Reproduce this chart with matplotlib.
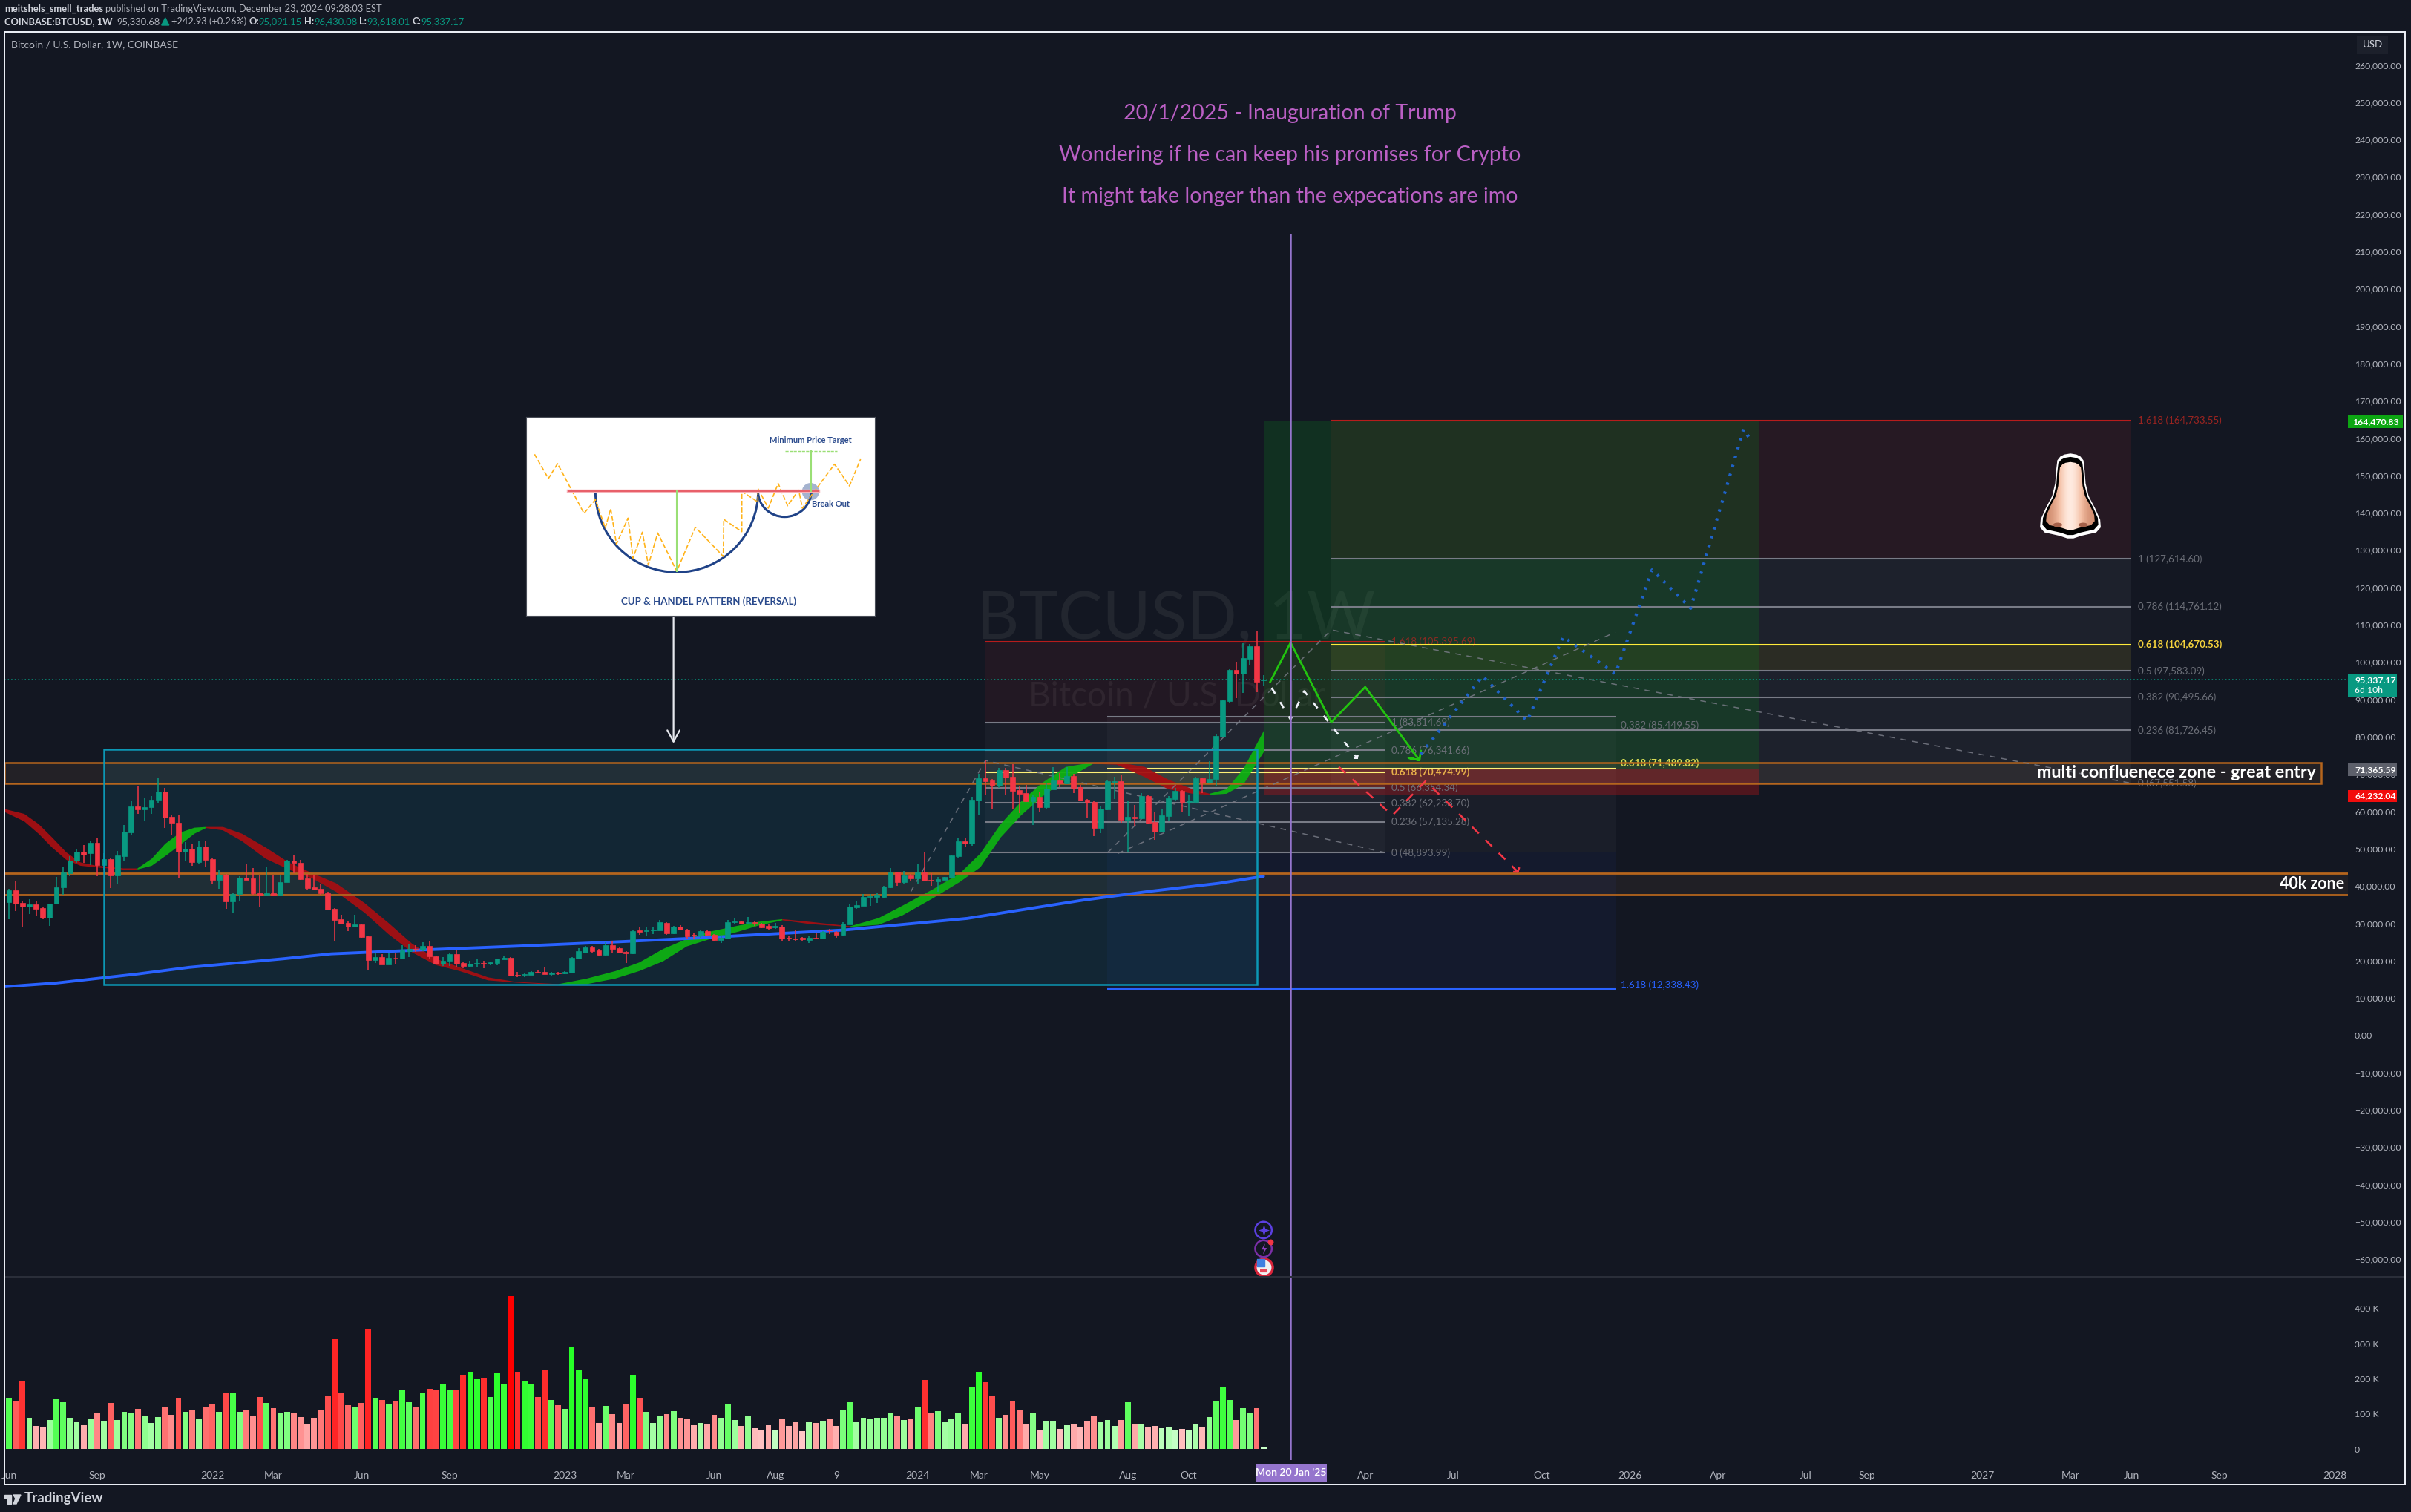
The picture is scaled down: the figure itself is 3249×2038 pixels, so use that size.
import numpy as np
import matplotlib
matplotlib.use("Agg")
import matplotlib.pyplot as plt
from matplotlib.patches import Rectangle, Arc, Polygon, Ellipse

W, H = 3249, 2038
BG = "#131722"
plt.rcParams["font.family"] = ["Lato", "DejaVu Sans"]

# weekly candles in thousand USD, first bar is 7 Jun 2021
opens = [35.6, 38.8, 35.5, 34.5, 35.0, 34.0, 31.5, 35.2, 39.7, 43.5, 46.7, 49.1, 48.8, 51.5, 45.6, 47.1, 42.8, 48.0, 54.3, 61.3,
         60.5, 61.0, 63.0, 65.3, 58.5, 57.0, 49.2, 50.0, 46.4, 50.5, 47.2, 41.6, 43.0, 35.8, 37.8, 42.2, 42.0, 38.1, 37.5, 38.1,
         37.5, 41.1, 46.8, 46.1, 42.0, 39.6, 39.2, 38.1, 33.8, 31.0, 30.1, 29.1, 29.7, 26.5, 20.1, 21.0, 19.0, 20.8, 20.5, 22.6,
         23.2, 22.9, 24.0, 21.2, 19.1, 19.9, 21.7, 19.3, 18.6, 19.1, 19.4, 19.2, 19.4, 20.4, 20.7, 16.1, 16.2, 16.2, 17.0, 16.9,
         16.4, 16.8, 16.5, 16.7, 20.5, 22.2, 23.5, 22.7, 21.5, 24.1, 23.3, 22.4, 22.0, 28.0, 27.9, 28.1, 28.0, 30.1, 27.3, 29.1,
         28.3, 26.9, 26.7, 27.9, 27.0, 25.6, 26.0, 30.2, 30.4, 30.0, 30.2, 29.8, 29.2, 28.8, 29.1, 26.2, 26.0, 26.1, 25.6, 26.2,
         25.9, 28.2, 27.7, 26.9, 29.7, 34.2, 34.7, 37.0, 37.0, 37.0, 39.7, 43.6, 41.0, 42.8, 42.0, 43.7, 41.6, 41.2, 41.7, 42.2,
         48.0, 52.0, 51.4, 62.9, 68.8, 68.2, 66.9, 71.0, 69.2, 65.7, 64.9, 62.7, 63.9, 61.1, 65.9, 68.3, 67.5, 69.5, 66.4, 63.1,
         62.5, 55.5, 60.5, 67.9, 68.1, 57.7, 58.5, 58.1, 64.1, 57.1, 54.5, 58.7, 63.3, 65.5, 62.5, 62.5, 68.8, 67.6, 68.7, 79.9,
         89.5, 97.8, 96.9, 100.9, 104.3, 95.09]
closes = [38.8, 35.3, 34.5, 35.0, 33.9, 31.5, 35.2, 39.6, 43.7, 46.8, 49.1, 48.4, 51.5, 45.6, 47.1, 42.8, 48.1, 54.5, 61.3, 60.5,
          61.0, 63.0, 65.3, 58.3, 56.9, 49.2, 50.0, 46.4, 50.5, 47.0, 41.6, 43.0, 35.8, 37.8, 42.2, 41.7, 38.0, 37.5, 38.1, 37.5,
          41.1, 46.8, 46.1, 41.8, 39.5, 39.0, 38.0, 33.7, 30.9, 29.9, 29.1, 29.7, 26.4, 20.1, 20.9, 19.0, 20.7, 20.7, 22.7, 23.1,
          22.9, 24.0, 21.1, 19.1, 19.9, 21.7, 19.2, 18.6, 19.1, 19.4, 19.2, 19.5, 20.5, 20.8, 16.0, 15.9, 16.4, 17.0, 16.7, 16.4,
          16.8, 16.5, 16.9, 20.7, 22.5, 23.5, 22.5, 21.5, 24.1, 23.1, 22.1, 22.0, 27.9, 27.7, 28.1, 28.3, 30.3, 27.3, 29.1, 28.2,
          26.5, 26.7, 27.9, 26.9, 25.6, 26.2, 30.2, 30.4, 29.9, 30.2, 30.0, 28.9, 28.7, 29.2, 25.9, 25.9, 25.8, 25.8, 26.2, 26.0,
          27.7, 28.0, 26.9, 29.8, 34.5, 34.9, 37.0, 37.3, 37.4, 39.8, 43.6, 41.0, 42.8, 42.0, 43.7, 41.4, 41.4, 41.8, 42.4, 48.2,
          52.0, 51.4, 63.1, 68.8, 68.0, 66.9, 71.0, 69.0, 65.5, 64.7, 62.7, 63.9, 61.1, 66.0, 68.3, 67.5, 69.5, 66.3, 62.9, 62.3,
          55.5, 60.7, 68.1, 68.0, 57.7, 58.5, 58.1, 64.1, 56.9, 54.5, 58.9, 63.5, 65.5, 62.5, 62.8, 68.8, 67.6, 68.6, 80.2, 89.7,
          97.8, 96.9, 101.1, 104.3, 94.7, 95.34]
highs = [39.3, 41.2, 35.8, 36.5, 35.8, 34.5, 35.3, 42.5, 45.1, 48.0, 49.8, 50.9, 51.9, 52.7, 48.8, 47.3, 49.3, 56.3, 62.7, 66.9,
         63.7, 64.1, 68.8, 66.3, 59.2, 59.0, 51.8, 51.1, 51.9, 51.9, 47.4, 44.3, 43.3, 38.0, 42.6, 45.8, 44.7, 42.8, 45.1, 42.8,
         42.8, 47.0, 48.1, 46.9, 43.2, 43.0, 40.5, 38.5, 34.0, 32.2, 30.5, 32.2, 29.9, 26.8, 21.9, 21.7, 22.1, 21.9, 24.1, 24.4,
         24.2, 24.9, 25.1, 21.4, 20.9, 21.9, 22.7, 19.6, 19.9, 20.4, 19.9, 19.6, 20.6, 21.3, 20.9, 17.0, 16.5, 17.2, 17.3, 18.1,
         16.9, 16.9, 17.1, 21.0, 23.3, 23.9, 23.9, 23.2, 25.0, 25.1, 23.5, 22.6, 28.0, 29.0, 29.0, 29.0, 30.9, 30.2, 29.3, 29.5,
         28.5, 27.5, 28.0, 28.2, 27.1, 26.5, 30.8, 31.2, 30.6, 31.7, 30.4, 30.0, 29.9, 30.1, 29.4, 26.6, 28.1, 26.4, 26.6, 27.4,
         27.9, 28.5, 27.9, 30.2, 35.0, 35.8, 37.8, 37.8, 38.2, 40.0, 44.8, 43.8, 44.1, 43.2, 45.8, 49.0, 43.5, 42.5, 42.5, 48.3,
         52.7, 52.9, 63.9, 70.0, 73.6, 68.6, 71.6, 71.6, 72.6, 66.8, 67.0, 64.3, 65.2, 67.5, 71.8, 70.3, 71.8, 70.0, 67.0, 63.2,
         62.7, 61.2, 68.3, 69.3, 69.8, 62.7, 61.7, 64.9, 64.3, 59.7, 60.6, 64.0, 66.3, 65.7, 64.3, 69.2, 69.0, 73.4, 80.7, 90.0,
         98.0, 100.0, 105.1, 104.8, 108.2, 96.43]
lows = [31.0, 33.2, 28.8, 32.5, 31.9, 31.0, 29.2, 35.0, 37.4, 42.7, 46.1, 46.2, 45.5, 42.7, 44.4, 39.5, 40.7, 46.8, 53.7, 59.4,
        57.6, 59.4, 62.1, 55.6, 53.7, 42.3, 46.6, 45.4, 45.8, 45.1, 40.5, 39.2, 33.9, 32.9, 36.0, 41.6, 37.5, 34.3, 37.2, 37.2,
        37.2, 41.0, 43.5, 41.6, 39.1, 38.8, 37.5, 33.5, 25.1, 29.7, 27.9, 29.0, 26.2, 17.4, 19.4, 18.9, 18.9, 19.0, 20.5, 20.9,
        22.4, 22.5, 20.6, 18.9, 18.6, 18.6, 18.4, 18.0, 18.3, 18.3, 18.0, 18.8, 18.8, 20.3, 15.7, 15.6, 15.5, 16.1, 16.6, 16.3,
        16.0, 16.2, 16.3, 16.7, 20.3, 21.9, 22.2, 21.4, 21.3, 22.2, 22.0, 19.4, 21.8, 26.9, 26.5, 27.2, 28.0, 26.9, 27.1, 28.1,
        25.7, 26.0, 26.2, 26.7, 25.4, 24.7, 25.9, 29.7, 29.7, 29.9, 29.3, 28.7, 28.3, 28.5, 25.1, 25.4, 25.1, 25.4, 24.7, 25.8,
        25.8, 27.2, 26.2, 26.8, 29.7, 33.9, 34.6, 34.6, 35.4, 36.7, 39.5, 40.0, 40.5, 41.2, 40.5, 41.2, 40.0, 38.4, 41.6, 42.1,
        47.6, 50.3, 50.8, 59.1, 64.3, 60.7, 66.3, 64.3, 60.7, 59.5, 62.4, 56.4, 59.9, 60.6, 65.9, 66.5, 67.3, 64.9, 62.9, 58.4,
        53.3, 54.2, 60.4, 63.2, 56.9, 49.0, 55.9, 57.9, 56.7, 52.3, 54.4, 57.3, 62.6, 59.7, 58.7, 62.3, 64.9, 67.5, 66.9, 79.8,
        89.0, 90.4, 91.8, 99.3, 92.0, 93.62]

# weekly volume in thousands
volumes = [146, 135, 192, 89, 66, 63, 82, 142, 133, 89, 76, 68, 85, 101, 78, 131, 82, 106, 104, 114,
           93, 74, 91, 118, 97, 144, 106, 110, 85, 120, 129, 106, 159, 161, 106, 110, 93, 148, 131, 116,
           104, 106, 101, 91, 72, 89, 112, 150, 313, 159, 125, 120, 131, 340, 144, 140, 127, 135, 169, 133,
           120, 159, 171, 167, 184, 169, 167, 209, 220, 199, 203, 148, 216, 184, 435, 220, 194, 184, 148, 226,
           140, 125, 114, 290, 226, 199, 120, 74, 123, 99, 74, 129, 211, 144, 106, 74, 95, 99, 108, 89,
           87, 68, 74, 72, 97, 89, 127, 82, 66, 93, 59, 55, 68, 55, 85, 66, 76, 51, 76, 74,
           78, 87, 66, 110, 133, 76, 89, 87, 89, 89, 101, 95, 82, 87, 120, 197, 104, 108, 76, 85,
           104, 70, 178, 220, 190, 152, 89, 97, 135, 112, 70, 101, 55, 78, 78, 57, 68, 70, 61, 80,
           95, 76, 82, 66, 82, 133, 72, 72, 63, 66, 59, 63, 53, 57, 55, 70, 61, 91, 135, 175,
           140, 82, 116, 104, 116, 6]

# trend ribbon, runs of one colour share their end points
rib_weeks = [-0.7, 2.2, 4.3, 6.3, 8.4, 10.5, 12.6, 16.8, 18.9, 21.0, 23.0, 25.2, 27.3, 29.0, 31.5, 34.3, 37.8, 41.2, 44.7, 48.2,
             52.4, 55.9, 59.4, 62.9, 66.4, 70.6, 74.7, 81.0, 85.2, 89.4, 92.9, 96.4, 99.9, 103.4, 107.6, 110.5, 114.0, 118.0, 124.0, 128.2,
             131.7, 136.2, 140.2, 143.2, 146.2, 149.2, 152.3, 155.8, 159.8, 163.3, 167.4, 170.9, 174.5, 177.0, 179.5, 182.0, 185.0]
rib_tops = [60.7, 59.4, 56.7, 53.1, 49.1, 46.4, 45.6, 44.8, 44.8, 47.4, 51.4, 54.4, 55.7, 55.9, 55.9, 54.1, 50.4, 46.4, 43.5, 40.8,
            35.5, 30.2, 24.6, 20.6, 18.3, 15.6, 14.4, 13.8, 15.3, 17.3, 19.6, 23.2, 25.9, 27.9, 29.5, 30.5, 31.2, 30.5, 29.3, 31.5,
            34.8, 39.2, 43.5, 48.8, 56.7, 62.7, 67.7, 72.0, 73.2, 73.3, 72.0, 68.6, 66.0, 64.8, 66.0, 71.5, 81.7]
rib_bots = [59.9, 57.4, 54.1, 50.4, 47.1, 45.5, 45.1, 44.5, 44.5, 45.5, 48.1, 51.1, 54.1, 55.6, 55.0, 52.1, 47.4, 44.5, 42.1, 38.5,
            32.9, 27.2, 22.3, 18.9, 17.3, 14.8, 14.2, 13.6, 13.8, 15.3, 17.3, 19.9, 23.9, 25.9, 27.9, 29.5, 30.9, 29.9, 29.1, 29.7,
            32.2, 36.8, 41.2, 45.1, 53.1, 59.0, 64.0, 68.6, 72.8, 72.6, 69.3, 66.0, 64.8, 64.5, 64.8, 67.3, 76.0]
rib_up = [0, 0, 0, 0, 0, 0, 0, 0, 1, 1, 1, 1, 1, 0, 0, 0, 0, 0, 0, 0,
          0, 0, 0, 0, 0, 0, 0, 1, 1, 1, 1, 1, 1, 1, 1, 1, 0, 0, 1, 1,
          1, 1, 1, 1, 1, 1, 1, 1, 0, 0, 0, 0, 0, 1, 1, 1, 1]

# long moving average
ma_weeks = [-0.7, 7, 18.9, 26.6, 40.5, 47.5, 61.5, 75.4, 89.4, 103.4, 108, 123.2, 141.3, 158.4, 168.4, 178.4, 185]
ma_values = [13.0, 14.0, 16.4, 18.2, 20.5, 21.8, 22.9, 23.9, 25.0, 26.2, 26.7, 28.2, 31.3, 36.2, 38.6, 40.7, 42.6]

# fib retracements drawn on the chart
fib1_levels = [1.618, 1, 0.786, 0.618, 0.5, 0.382, 0.236, 0]
fib1_prices = [105.39569, 83.81469, 76.34166, 70.47499, 66.35434, 62.2337, 57.13528, 48.89399]
fib3_levels = [1.618, 1, 0.786, 0.618, 0.5, 0.382, 0.236, 0]
fib3_prices = [164.73355, 127.6146, 114.76112, 104.67053, 97.58309, 90.49566, 81.72645, 67.55158]
fib2_levels = [0.382, 0.618, 1.618]
fib2_prices = [85.44955, 71.48982, 12.33843]

# hand drawn paths, (week, price)
green_path = [(186, 94.7), (189, 105.2), (195, 83.9), (200, 93.3), (208, 73.7), (206.4, 74.3), (208, 73.7), (208.2, 76.2)]
white_path = [(186.2, 93.1), (189, 84.6), (191, 92.2), (198.8, 74.3), (197.6, 74.3), (198.8, 74.3), (199.1, 76.7)]
red_path = [(196.1, 71.9), (204, 58.9), (208.9, 68.1), (222.5, 43.8), (221.4, 43.8), (222.5, 43.8), (223, 46.4)]
blue_path = [(208.2, 75.3), (217.3, 96.2), (223.9, 84.2), (229.2, 106.8), (236.9, 96.8), (242.3, 124.7), (248, 114.4), (255.8, 162.4), (257, 159)]
trend_1 = [(133, 38.5), (144, 73.6), (203, 48.9)]
trend_2 = [(162, 48.9), (195, 108.6), (313, 67.5)]
trend_3 = [(163.5, 48.7), (236.9, 108.0)]

price_ticks = list(range(-60, 261, 10))
vol_ticks = [0, 100, 200, 300, 400]
time_weeks = [0, 13, 30, 39, 52, 65, 82, 91, 104, 113, 122, 134, 143, 152, 165, 174, 200, 213, 226, 239, 252, 265, 274, 291, 304, 313, 326, 343]
time_labels = ["Jun", "Sep", "2022", "Mar", "Jun", "Sep", "2023", "Mar", "Jun", "Aug", "9", "2024", "Mar", "May", "Aug", "Oct",
               "Apr", "Jul", "Oct", "2026", "Apr", "Jul", "Sep", "2027", "Mar", "Jun", "Sep", "2028"]

# cup and handle sketch, in the coordinates of the pasted picture
cup_x = [122, 178, 215, 322, 368, 408, 430, 453, 500, 520, 558, 582, 620, 697, 772, 885, 887, 960, 960, 1025, 1025, 1067, 1107, 1145, 1190, 1205, 1240, 1335, 1395, 1440]
cup_y = [217, 315, 255, 456, 400, 515, 437, 580, 475, 637, 532, 665, 535, 690, 512, 630, 480, 530, 367, 410, 355, 435, 335, 425, 362, 435, 385, 257, 345, 237]


def fx(px):
    return px / W


def fy(py):
    return 1 - py / H


def add_axes_px(x0, y0, x1, y1, **kw):
    return fig.add_axes([fx(x0), fy(y1), (x1 - x0) / W, (y1 - y0) / H], **kw)


def px_text(x, y, s, **kw):
    kw.setdefault("va", "center")
    kw.setdefault("color", "#b2b5be")
    return fig.text(fx(x), fy(y), s, **kw)


def px_box(x0, y0, x1, y1, color, z=4):
    fig.patches.append(Rectangle((fx(x0), fy(y1)), (x1 - x0) / W, (y1 - y0) / H, transform=fig.transFigure,
                                 facecolor=color, edgecolor="none", zorder=z))


def run_text(x, y, pieces, size):
    # pieces follow each other on one line, each measured after it is placed
    renderer = fig.canvas.get_renderer()
    starts = []
    for s, col, weight, gap in pieces:
        starts.append(x)
        t = px_text(x, y, s, color=col, fontsize=size, fontweight=weight)
        x = x + t.get_window_extent(renderer).width + gap
    return starts


def path_xy(path):
    return [p[0] for p in path], [p[1] for p in path]


fig = plt.figure(figsize=(W / 100, H / 100), dpi=100, facecolor=BG)

# watermark goes under the transparent axes
px_text(1585, 836, "BTCUSD, 1W", ha="center", color="#22262f", fontsize=64, zorder=-1)
px_text(1586, 938, "Bitcoin / U.S. Dollar", ha="center", color="#22252f", fontsize=33, zorder=-1)

ax = add_axes_px(6, 43, 3164, 1721, facecolor="none")
ax.set_xlim(-0.667, 344.92)
ax.set_ylim(-64.74, 268.84)
for s in ax.spines.values():
    s.set_visible(False)

# cup and handle range box
ax.add_patch(Rectangle((14, 13.6), 170, 63, facecolor="#0e7896", alpha=0.16, edgecolor="none", zorder=1))
ax.add_patch(Rectangle((14, 13.6), 170, 63, fill=False, edgecolor="#0c97b4", lw=1.8, zorder=6))

# fib 1
fib1_l, fib1_r = 144, 203
fib1_tints = ["#d32f2f", "#787b86", "#787b86", "#ffeb3b", "#787b86", "#787b86", "#787b86"]
for a, b, col in zip(fib1_prices[:-1], fib1_prices[1:], fib1_tints):
    ax.fill_between([fib1_l, fib1_r], b, a, color=col, alpha=0.08, lw=0, zorder=1.1)
for lvl, p in zip(fib1_levels, fib1_prices):
    col = "#b71c1c" if lvl == 1.618 else "#fff176" if lvl == 0.618 else "#787b86"
    ax.hlines(p, fib1_l, fib1_r, color=col, lw=1.5, zorder=3)
    tcol = "#8a2a22" if lvl == 1.618 else "#e8b04a" if lvl == 0.618 else "#6c6f78"
    ax.text(fib1_r + 0.9, p, f"{lvl} ({p * 1000:,.2f})", color=tcol, fontsize=9.6, va="center", zorder=3,
            fontweight="bold" if lvl == 0.618 else "normal")

# fib 2
fib2_l, fib2_r = 162, 237
ax.fill_between([fib2_l, fib2_r], 48.89, fib2_prices[0], color="#787b86", alpha=0.07, lw=0, zorder=1.1)
ax.fill_between([fib2_l, fib2_r], fib2_prices[2], 48.89, color="#2962ff", alpha=0.05, lw=0, zorder=1.1)
fib2_nudge = {0.382: -2.4, 0.618: 1.4, 1.618: 1.1}
for lvl, p in zip(fib2_levels, fib2_prices):
    col = "#2962ff" if lvl == 1.618 else "#fff176" if lvl == 0.618 else "#787b86"
    ax.hlines(p, fib2_l, fib2_r, color=col, lw=1.5, zorder=3)
    tcol = "#2962ff" if lvl == 1.618 else "#d9dc55" if lvl == 0.618 else "#6c6f78"
    ax.text(237.7, p + fib2_nudge[lvl], f"{lvl} ({p * 1000:,.2f})", color=tcol, fontsize=9.6, va="center", zorder=3,
            fontweight="bold" if lvl == 0.618 else "normal")

# fib 3
fib3_l, fib3_r = 195, 313
fib3_tints = ["#d32f2f", "#787b86", "#787b86", "#ffeb3b", "#787b86", "#787b86", "#787b86"]
for a, b, col in zip(fib3_prices[:-1], fib3_prices[1:], fib3_tints):
    ax.fill_between([fib3_l, fib3_r], b, a, color=col, alpha=0.10, lw=0, zorder=1.1)
for lvl, p in zip(fib3_levels, fib3_prices):
    col = "#b71c1c" if lvl == 1.618 else "#ffeb3b" if lvl == 0.618 else "#787b86"
    ax.hlines(p, fib3_l, fib3_r, color=col, lw=1.5, zorder=3)
    tcol = "#9c2420" if lvl == 1.618 else "#f5d33d" if lvl == 0.618 else "#6c6f78"
    ax.text(fib3_r + 0.9, p, f"{lvl} ({p * 1000:,.2f})", color=tcol, fontsize=9.6, va="center", zorder=3,
            fontweight="bold" if lvl == 0.618 else "normal")

# long position box
long_l, long_r = 185, 258
ax.fill_between([long_l, long_r], 71.37, 164.47, color="#0a8a1e", alpha=0.22, lw=0, zorder=1.2)
ax.fill_between([long_l, long_r], 64.23, 71.37, color="#d01418", alpha=0.32, lw=0, zorder=1.2)

# orange zones
ax.add_patch(Rectangle((-0.667, 67.5), 341.67, 5.56, facecolor="#ffb066", alpha=0.07, edgecolor="none", zorder=2.5))
ax.add_patch(Rectangle((-0.667, 67.5), 341.67, 5.56, fill=False, edgecolor="#b5651d", lw=1.8, zorder=3.3))
ax.add_patch(Rectangle((-0.667, 37.6), 345.6, 5.9, facecolor="#ffb066", alpha=0.06, edgecolor="none", zorder=2.5))
ax.hlines([37.6, 43.5], -0.667, 344.92, color="#b5651d", lw=2, zorder=3.3)

# ribbon, split where the colour changes
rib_w = np.array(rib_weeks)
rib_t = np.array(rib_tops)
rib_b = np.array(rib_bots)
rib_u = np.array(rib_up)
start = 0
for k in range(1, len(rib_w) + 1):
    if k == len(rib_w) or rib_u[k] != rib_u[start]:
        end = min(k + 1, len(rib_w))
        col = "#0eb013" if rib_u[start] else "#a50f13"
        ax.fill_between(rib_w[start:end], rib_b[start:end], rib_t[start:end], color=col, alpha=0.95, lw=0, zorder=3.2)
        start = k

ax.plot(ma_weeks, ma_values, color="#2962ff", lw=2.8, zorder=3.4, solid_capstyle="round")

# dashed trend lines
for tr in [trend_1, trend_2, trend_3]:
    xs, ys = path_xy(tr)
    ax.plot(xs, ys, color="#787b86", lw=1.1, alpha=0.85, ls=(0, (5, 5)), zorder=3.6)

# candles
weeks = np.arange(len(opens))
o = np.array(opens)
c = np.array(closes)
hi = np.array(highs)
lo = np.array(lows)
up = c >= o
candle_cols = np.where(up, "#089981", "#f23645")
ax.vlines(weeks, lo, hi, colors=candle_cols, lw=1.1, zorder=4)
ax.bar(weeks, np.abs(c - o), bottom=np.minimum(o, c), width=0.74, color=candle_cols, edgecolor=candle_cols, lw=0.5, zorder=4.1)

# last price line
ax.hlines(closes[-1], -0.667, 344.92, color="#089981", lw=1.1, ls=(0, (1, 2)), zorder=3.7)

# drawn scenarios
xs, ys = path_xy(green_path)
ax.plot(xs, ys, color="#22c40f", lw=2.0, zorder=5)
xs, ys = path_xy(white_path)
ax.plot(xs, ys, color="#f0f3fa", lw=1.9, ls=(0, (3.5, 5)), zorder=5)
xs, ys = path_xy(red_path)
ax.plot(xs, ys, color="#f23645", lw=1.8, ls=(0, (5, 5)), zorder=5)
xs, ys = path_xy(blue_path)
ax.plot(xs, ys, color="#1e62c8", lw=3, ls=(0, (0.8, 2.2)), zorder=5)

# arrow under the picture
ax.annotate("", xy=(98, 78.2), xytext=(98, 112.4), arrowprops=dict(arrowstyle="->,head_length=1.1,head_width=0.6", color="#e6e8ee", lw=1.6, shrinkA=0, shrinkB=0), zorder=5)

# event line
ax.vlines(189, -64.74, 214.8, color="#9575cd", lw=1.8, zorder=5)

# event icons at the bottom of the price pane
star4 = [(0, 1), (0.25, 0.25), (1, 0), (0.25, -0.25), (0, -1), (-0.25, -0.25), (-1, 0), (-0.25, 0.25)]
bolt = [(0.2, 1), (-0.5, -0.1), (0, -0.1), (-0.2, -1), (0.5, 0.2), (0, 0.2)]
ax.scatter([185], [-52.2], s=260, facecolor="none", edgecolor="#5b3fe0", lw=1.8, zorder=6)
ax.scatter([185], [-52.2], s=120, marker=star4, color="#5b3fe0", lw=0, zorder=6)
ax.scatter([185], [-57.2], s=260, facecolor="none", edgecolor="#7b2fa8", lw=1.8, zorder=6)
ax.scatter([185], [-57.2], s=110, marker=bolt, color="#8e3fbf", lw=0, zorder=6)
ax.scatter([186.0], [-55.4], s=22, color="#f23645", zorder=6)
ax.scatter([185], [-62.1], s=280, facecolor="#f0f0f0", edgecolor="#d9243a", lw=2.4, zorder=6)
ax.scatter([185], [-63.1], s=60, marker="_", color="#e8475a", lw=3, zorder=6.1)
ax.scatter([184.6], [-60.9], s=50, marker="s", color="#3f7fe0", zorder=6.1)

# zone captions
ax.text(334.9, 40.5, "40k zone", color="#ffffff", fontsize=15.5, fontweight="bold", va="center", zorder=7, clip_on=True)
ax.text(340.2, 70.3, "multi confluenece zone - great entry", color="#ffffff", fontsize=16.8, fontweight="bold", ha="right", va="center", zorder=7)

ax.set_xticks([])
ax.set_yticks(price_ticks)
ax.set_yticklabels([f"{v * 1000:,.2f}".replace("-", "\u2212") for v in price_ticks], fontsize=8.8, color="#b2b5be", ha="left")
ax.yaxis.tick_right()
ax.tick_params(axis="y", length=0, pad=6.5)

# volume pane
ax_v = add_axes_px(6, 1721, 3164, 1968, facecolor="none")
ax_v.set_xlim(ax.get_xlim())
ax_v.set_ylim(-31.7, 490.5)
for s in ax_v.spines.values():
    s.set_visible(False)
vol = np.array(volumes)
shade = np.interp(vol, [50, 70, 100, 140, 200, 340, 435], [200, 170, 135, 85, 45, 35, 0]) / 255
vol_cols = [(s, 1, s) if u else (1, s, s) for s, u in zip(shade, up)]
ax_v.bar(weeks, vol, width=0.86, color=vol_cols, lw=0)
ax_v.vlines(189, -31.7, 490.5, color="#9575cd", lw=1.8)
ax_v.set_yticks(vol_ticks)
ax_v.set_yticklabels([f"{v} K" if v else "0" for v in vol_ticks], fontsize=8.8, color="#b2b5be", ha="left")
ax_v.yaxis.tick_right()
ax_v.tick_params(axis="y", length=0, pad=6.5)
ax_v.set_xticks(time_weeks)
ax_v.set_xticklabels(time_labels, fontsize=10, color="#b2b5be")
ax_v.tick_params(axis="x", length=0, pad=11)

# pane separators and frame
fig.add_artist(plt.Line2D([fx(6), fx(3241)], [fy(1721), fy(1721)], color="#2a2e39", lw=1.5, zorder=2))
fig.add_artist(Rectangle((fx(6), fy(2001)), (3241 - 6) / W, (2001 - 43) / H, transform=fig.transFigure, fill=False, edgecolor="#f0f3fa", lw=1.4, zorder=3))

# header texts
LIGHT = "#d1d4dc"
DIM = "#b2b5be"
TEAL = "#089981"
run_text(6, 12, [("meitshels_smell_trades", LIGHT, "bold", 3),
                 ("published on TradingView.com, December 23, 2024 09:28:03 EST", DIM, "normal", 0)], 9.3)
starts = run_text(6, 29, [("COINBASE:BTCUSD, 1W", LIGHT, "bold", 6), ("95,330.68", DIM, "normal", 15), ("+242.93 (+0.26%)", DIM, "normal", 3),
                          ("O:", LIGHT, "bold", 0), ("95,091.15", TEAL, "normal", 3), ("H:", LIGHT, "bold", 0), ("96,430.08", TEAL, "normal", 3),
                          ("L:", LIGHT, "bold", 0), ("93,618.01", TEAL, "normal", 3), ("C:", LIGHT, "bold", 0), ("95,337.17", TEAL, "normal", 0)], 9.3)
tri = starts[2]
fig.add_artist(Polygon([[fx(tri - 13), fy(34)], [fx(tri - 3), fy(34)], [fx(tri - 8), fy(24)]], closed=True, transform=fig.transFigure, color=TEAL, zorder=4))
px_text(15, 60, "Bitcoin / U.S. Dollar, 1W, COINBASE", color=DIM, fontsize=10)

# purple comment
px_text(1738, 153, "20/1/2025 - Inauguration of Trump", ha="center", color="#ba5fc4", fontsize=20.5, zorder=6)
px_text(1738, 209, "Wondering if he can keep his promises for Crypto", ha="center", color="#ba5fc4", fontsize=20.5, zorder=6)
px_text(1738, 265, "It might take longer than the expecations are imo", ha="center", color="#ba5fc4", fontsize=20.5, zorder=6)

# price scale tags
px_box(3176, 48, 3218, 73, "#1c202b")
px_text(3197, 60.5, "USD", ha="center", color=LIGHT, fontsize=9.5, zorder=5)
px_box(3164, 560, 3238, 577, "#0da613")
px_text(3201, 568.5, "164,470.83", ha="center", color="#ffffff", fontsize=8.8, fontweight="bold", zorder=5)
px_box(3164, 909, 3230, 939, "#089981")
px_text(3173, 917, "95,337.17", color="#ffffff", fontsize=8.8, fontweight="bold", zorder=5)
px_text(3173, 931, "6d 10h", color="#ffffff", fontsize=8.8, zorder=5)
px_box(3164, 1029, 3230, 1046, "#5d606b")
px_text(3173, 1037.5, "71,365.59", color="#ffffff", fontsize=8.8, fontweight="bold", zorder=5)
px_box(3164, 1065, 3230, 1081, "#f20d0d")
px_text(3173, 1073, "64,232.04", color="#ffffff", fontsize=8.8, fontweight="bold", zorder=5)
px_box(1692, 1973, 1788, 1997, "#9575cd")
px_text(1740, 1985, "Mon 20 Jan '25", ha="center", color="#ffffff", fontsize=10, fontweight="bold", zorder=5)

# footer logo
px_text(33, 2020, "TradingView", color=LIGHT, fontsize=13.5, fontweight="bold")
fig.add_artist(Polygon([[fx(6), fy(2015)], [fx(15), fy(2015)], [fx(15), fy(2027)], [fx(10), fy(2027)], [fx(10), fy(2019)], [fx(6), fy(2019)]], closed=True, transform=fig.transFigure, color=LIGHT, zorder=4))
fig.add_artist(Polygon([[fx(18), fy(2015)], [fx(28), fy(2015)], [fx(22), fy(2027)], [fx(18), fy(2027)], [fx(21), fy(2020)]], closed=True, transform=fig.transFigure, color=LIGHT, zorder=4))

# pasted cup and handle picture
ax_cup = add_axes_px(709, 562, 1179, 830, facecolor="#ffffff", zorder=8)
ax_cup.set_xlim(88, 1498)
ax_cup.set_ylim(870, 66)
ax_cup.set_xticks([])
ax_cup.set_yticks([])
for s in ax_cup.spines.values():
    s.set_edgecolor("#4a4e58")
ax_cup.plot(cup_x, cup_y, color="#ffb31a", lw=1.2, ls=(0, (4, 1.5)))
ax_cup.plot([260, 1270], [365, 365], color="#f7b5bb", lw=3.2)
ax_cup.plot([260, 1270], [365, 365], color="#e8606a", lw=1.5)
ax_cup.add_patch(Arc((697, 367), 658, 654, theta1=0, theta2=180, color="#1f4287", lw=2.2))
ax_cup.add_patch(Arc((1133, 365), 216, 210, theta1=0, theta2=180, color="#1f4287", lw=2.2))
ax_cup.plot([698, 698], [367, 690], color="#9adf75", lw=1.5)
ax_cup.plot([1240, 1240], [205, 365], color="#9adf75", lw=1.5)
ax_cup.plot([1135, 1345], [205, 205], color="#9adf75", lw=1, ls=(0, (3, 1)))
ax_cup.add_patch(Ellipse((1238, 368), 70, 70, color="#1f4287", alpha=0.4, lw=0))
ax_cup.text(1238, 161, "Minimum Price Target", color="#2a4a8c", fontsize=8, fontweight="bold", ha="center", va="center")
ax_cup.text(1321, 418, "Break Out", color="#2a4a8c", fontsize=8, fontweight="bold", ha="center", va="center")
ax_cup.text(827, 811, "CUP & HANDEL PATTERN (REVERSAL)", color="#2a4a8c", fontsize=9.5, fontweight="bold", ha="center", va="center")

# nose sticker
ax_nose = add_axes_px(2747, 609, 2833, 728, facecolor="none", zorder=8)
ax_nose.axis("off")
nose_h = np.array([0, 0.012, 0.035, 0.08, 0.2, 0.35, 0.5, 0.65, 0.78, 0.87, 0.93, 0.97, 1.0])
nose_w = np.array([0, 0.2, 0.33, 0.43, 0.47, 0.5, 0.6, 0.82, 0.98, 1.0, 0.85, 0.35, 0.1])


def nose_outline(scale):
    ys = 0.5 + (nose_h - 0.5) * scale
    xs = nose_w * scale
    return np.column_stack([np.r_[-xs, xs[::-1]], np.r_[ys, ys[::-1]]])


ax_nose.add_patch(Polygon(nose_outline(1.0), closed=True, color="#ffffff", lw=0))
ax_nose.add_patch(Polygon(nose_outline(0.92), closed=True, color="#000000", lw=0))
skin = Polygon(nose_outline(0.8), closed=True, lw=0, fill=False)
ax_nose.add_patch(skin)
grad_x = np.linspace(-1, 1, 60)
grad = np.exp(-(grad_x / 0.45) ** 2)[None, :]
skin_map = matplotlib.colors.LinearSegmentedColormap.from_list("skin", ["#cf8a6d", "#f4bfa4", "#ffeadf"])
img = ax_nose.imshow(grad, extent=(-1, 1, 1, 0), cmap=skin_map, aspect="auto", zorder=2)
img.set_clip_path(skin)
ax_nose.set_xlim(-1.05, 1.05)
ax_nose.set_ylim(1.02, -0.02)
ax_nose.add_patch(Ellipse((-0.42, 0.84), 0.3, 0.05, color="#a5614a", lw=0, zorder=3))
ax_nose.add_patch(Ellipse((0.42, 0.84), 0.3, 0.05, color="#a5614a", lw=0, zorder=3))

fig.savefig("out.png", dpi=100, facecolor=BG)
